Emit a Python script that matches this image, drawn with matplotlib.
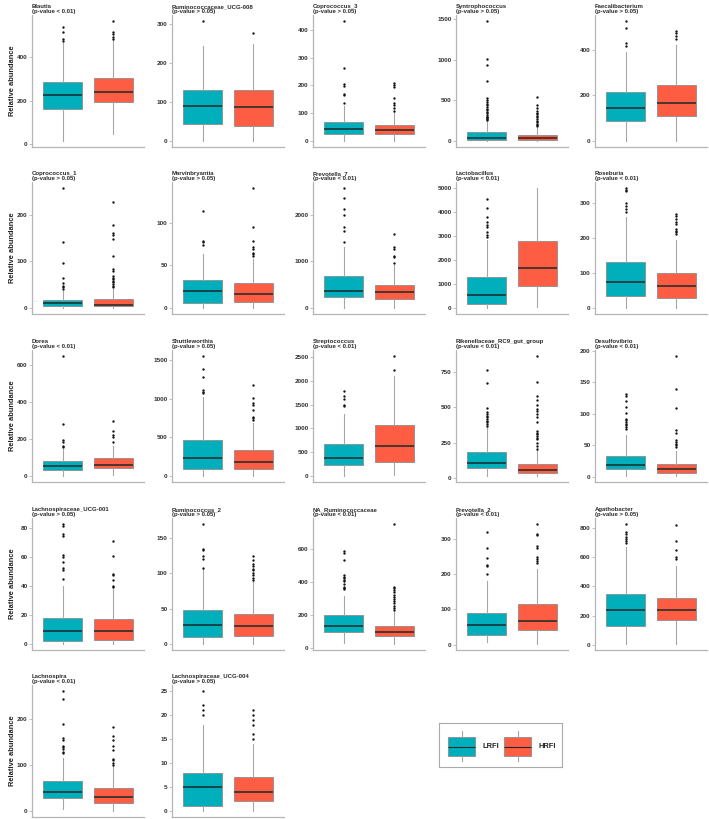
import matplotlib
matplotlib.use('Agg')
import matplotlib.pyplot as plt

plt.rcParams['font.family'] = ['Liberation Sans', 'DejaVu Sans']

W, H = 709, 819

groups = ['LRFI', 'HRFI']
group_colors = ['#00AFBB', '#FD5E43']

genera = ['Blautia', 'Ruminococcaceae_UCG-008', 'Coprococcus_3', 'Syntrophococcus', 'Faecalibacterium',
          'Coprococcus_1', 'Marvinbryantia', 'Prevotella_7', 'Lactobacillus', 'Roseburia',
          'Dorea', 'Shuttleworthia', 'Streptococcus', 'Rikenellaceae_RC9_gut_group', 'Desulfovibrio',
          'Lachnospiraceae_UCG-001', 'Ruminococcus_2', 'NA_Ruminococcaceae', 'Prevotella_2', 'Agathobacter',
          'Lachnospira', 'Lachnospiraceae_UCG-004']

pvalues = ['< 0.01', '> 0.05', '> 0.05', '> 0.05', '> 0.05',
           '> 0.05', '> 0.05', '< 0.01', '< 0.01', '< 0.01',
           '< 0.01', '> 0.05', '< 0.01', '< 0.01', '< 0.01',
           '> 0.05', '> 0.05', '< 0.01', '< 0.01', '> 0.05',
           '< 0.01', '> 0.05']

# (whisker low, q1, median, q3, whisker high)
lrfi_box = [(15, 160, 225, 286, 464), (0, 44, 91, 132, 244), (0, 25, 43, 67, 126),
            (0, 12, 41, 107, 250), (0, 88, 146, 215, 392),
            (0, 5, 10, 17, 37), (0, 6, 19.5, 33, 64), (0, 229, 373, 695, 1319),
            (0, 167, 529, 1281, 2850), (0, 35, 74, 131, 260),
            (0, 34, 54, 79, 145), (0, 90, 228, 465, 1017), (0, 225, 373, 669, 1310),
            (14, 67, 106, 183, 360), (1.6, 13.4, 19.3, 33.7, 66.8),
            (0, 1.8, 9, 18.2, 40), (0, 10.3, 26.2, 48.7, 106), (30, 95, 134, 198, 318),
            (6.6, 28.3, 56.6, 89.6, 181), (5, 126, 240, 347, 667),
            (3.6, 27.6, 42, 65.5, 116), (0, 1, 5, 8, 18)]

hrfi_box = [(49, 193, 240, 306, 479), (0, 38, 86, 131, 250), (0, 26, 40, 59, 105),
            (0, 12, 38, 74, 160), (0, 108, 166, 244, 423),
            (0, 4, 7, 19, 40), (0, 7.4, 16, 29, 58), (0, 194, 337, 495, 930),
            (30, 905, 1657, 2772, 5000), (0, 29, 63, 99, 195),
            (5, 42, 58, 96, 163), (0, 95, 185, 336, 690), (21, 303, 627, 1063, 2099),
            (14, 34, 53, 99, 196), (1.6, 7, 12.3, 20.3, 41.7),
            (0, 2.8, 9, 17, 37.5), (0, 11.2, 25.8, 42.6, 89), (24, 71, 95, 132, 217),
            (2, 40.6, 67.9, 114, 214), (5, 169, 240, 320, 542),
            (0, 18, 31, 51, 98), (0, 2, 4, 7, 14)]

lrfi_outliers = [
    [537, 514, 484, 476],
    [308],
    [432, 264, 204, 198, 168, 165, 138],
    [1480, 1010, 935, 735, 530, 500, 480, 460, 440, 420, 400, 380, 360, 340, 320, 300, 290, 280, 270, 260],
    [527, 498, 431, 419],
    [257, 141, 96, 65, 53, 48, 44, 40],
    [114, 79, 77, 74],
    [2580, 2358, 2129, 2000, 1735, 1663, 1412],
    [4530, 4180, 3790, 3580, 3470, 3370, 3160, 3050, 2950],
    [344, 339, 334, 300, 293, 284, 276],
    [647, 282, 192, 182, 163, 155],
    [1552, 1384, 1284, 1112, 1091, 1069],
    [1782, 1676, 1620, 1500, 1479],
    [760, 673, 495, 464, 452, 440, 428, 416, 404, 392, 380, 368],
    [131.5, 128, 121, 111, 100.5, 92.5, 90, 87, 84.5, 82, 79, 75.4],
    [82.5, 81.4, 75.6, 74.5, 61.4, 59.8, 56.1, 52.2, 51, 44.6],
    [169.6, 134.5, 132.2, 123.7, 120.4, 107.8],
    [588, 575, 535, 446, 434, 426, 415, 405, 389, 373, 365, 358],
    [318, 275, 245, 226, 222, 200],
    [827, 770, 759, 741, 726, 709, 695],
    [262, 244, 190.5, 160, 156, 143, 140, 134.5, 129.5, 126],
    [25, 22, 21, 20],
]

hrfi_outliers = [
    [566, 514, 505, 494, 484],
    [277],
    [210, 200, 196, 154, 136, 128, 118, 109],
    [545, 440, 410, 370, 350, 330, 310, 290, 270, 250, 230, 210, 195, 180],
    [483, 473, 461, 450],
    [228, 178, 161, 157, 148, 111, 83, 79, 69, 65, 62, 58, 55, 51, 48, 44],
    [141, 95, 79, 72, 69, 65, 63, 61],
    [1591, 1305, 1269, 1125, 1090, 968],
    [],
    [269, 263, 255, 247, 241, 226, 222, 217, 212],
    [298, 242, 222, 210, 181],
    [1177, 1004, 940, 918, 853, 767, 746, 724],
    [2521, 2225],
    [861, 680, 577, 548, 512, 488, 476, 452, 428, 392, 332, 320, 308, 296, 284, 272, 248, 224, 207],
    [191.4, 139, 109.6, 73.8, 69.5, 58.8, 55, 52.4, 50, 47],
    [70.6, 60.5, 48.3, 47.1, 44.1, 40, 39.1],
    [124, 119, 112.5, 109.7, 106.4, 104, 100.3, 97, 93.7, 91],
    [754, 373, 365, 353, 338, 324, 308, 298, 284, 272, 257, 243, 231],
    [341.5, 313, 310, 278, 275, 249, 242, 236, 230],
    [823, 713, 651, 603, 585],
    [184, 164, 156, 142, 133, 114, 110.5, 104, 100.4],
    [21, 20, 19, 18, 16, 15],
]

yticks = [[0, 200, 400], [0, 100, 200, 300], [0, 100, 200, 300, 400], [0, 500, 1000, 1500], [0, 200, 400],
          [0, 100, 200], [0, 50, 100], [0, 1000, 2000], [0, 1000, 2000, 3000, 4000, 5000], [0, 100, 200, 300],
          [0, 200, 400, 600], [0, 500, 1000, 1500], [0, 500, 1000, 1500, 2000, 2500], [0, 250, 500, 750],
          [0, 50, 100, 150, 200],
          [0, 20, 40, 60, 80], [0, 50, 100, 150], [0, 200, 400, 600], [0, 100, 200, 300], [0, 200, 400, 600, 800],
          [0, 100, 200], [0, 5, 10, 15, 20, 25]]

fig = plt.figure(figsize=(W / 100, H / 100), dpi=100)

col_left = [32, 172, 313, 456, 595]
col_w = 112
row_top = [15, 182, 350, 518, 685]
row_h = 132

axis_gray = '#b5b5b5'

for i, name in enumerate(genera):
    r, c = divmod(i, 5)
    ax = fig.add_axes([col_left[c] / W, 1 - (row_top[r] + row_h) / H, col_w / W, row_h / H])
    stats = []
    for box, outs in ((lrfi_box[i], lrfi_outliers[i]), (hrfi_box[i], hrfi_outliers[i])):
        stats.append(dict(whislo=box[0], q1=box[1], med=box[2], q3=box[3], whishi=box[4], fliers=outs))
    bp = ax.bxp(stats, positions=[1, 2], widths=0.75, patch_artist=True, showcaps=False,
                boxprops=dict(edgecolor='#8c8c8c', linewidth=0.6),
                whiskerprops=dict(color='#a6a6a6', linewidth=0.8),
                medianprops=dict(color='#1b2a2a', linewidth=1.1),
                flierprops=dict(marker='o', markersize=1.7, markerfacecolor='#111111',
                                markeredgecolor='none'))
    for patch, col in zip(bp['boxes'], group_colors):
        patch.set_facecolor(col)
    allv = list(lrfi_box[i]) + list(hrfi_box[i]) + lrfi_outliers[i] + hrfi_outliers[i]
    lo, hi = min(allv), max(allv)
    rng = hi - lo
    ax.set_ylim(lo - 0.05 * rng, hi + 0.05 * rng)
    ax.set_xlim(0.4, 2.6)
    ax.set_xticks([])
    ax.set_yticks(yticks[i])
    ax.set_yticklabels([str(t) for t in yticks[i]])
    for s in ('top', 'right'):
        ax.spines[s].set_visible(False)
    for s in ('left', 'bottom'):
        ax.spines[s].set_color(axis_gray)
        ax.spines[s].set_linewidth(0.9)
    ax.tick_params(axis='y', length=2, width=0.6, color=axis_gray, pad=1.2,
                   labelsize=4.6, labelcolor='#333333')
    for lab in ax.get_yticklabels():
        lab.set_fontweight('bold')
    ax.set_title(f"{name}\n(p-value {pvalues[i]})", loc='left', fontsize=4.3, fontweight='bold',
                 pad=1.5, linespacing=1.0, color='#2a2a2a')
    if c == 0:
        yc = 1 - (row_top[r] + row_h / 2) / H
        fig.text(12 / W, yc, 'Relative abundance', rotation=90, ha='center', va='center',
                 fontsize=5.4, fontweight='bold', color='#222222')

# legend
lax = fig.add_axes([439 / W, 1 - 767 / H, 123 / W, 44 / H])
lax.set_xlim(0, 123)
lax.set_ylim(0, 44)
lax.set_xticks([])
lax.set_yticks([])
for s in lax.spines.values():
    s.set_color('#aaaaaa')
    s.set_linewidth(0.8)
key_x = [22.5, 78.5]
lstats = [dict(whislo=6, q1=11, med=20.5, q3=30, whishi=36, fliers=[]) for _ in groups]
lbp = lax.bxp(lstats, positions=key_x, widths=27, patch_artist=True, showcaps=False,
              boxprops=dict(edgecolor='#8c8c8c', linewidth=0.6),
              whiskerprops=dict(color='#a6a6a6', linewidth=0.8),
              medianprops=dict(color='#1b2a2a', linewidth=0.8))
for patch, col in zip(lbp['boxes'], group_colors):
    patch.set_facecolor(col)
for kx, g in zip(key_x, groups):
    lax.text(kx + 20.5, 20.5, g, ha='left', va='center', fontsize=5.4, fontweight='bold', color='#222222')
lax.set_xticks([])

fig.savefig('out.png', dpi=100)
